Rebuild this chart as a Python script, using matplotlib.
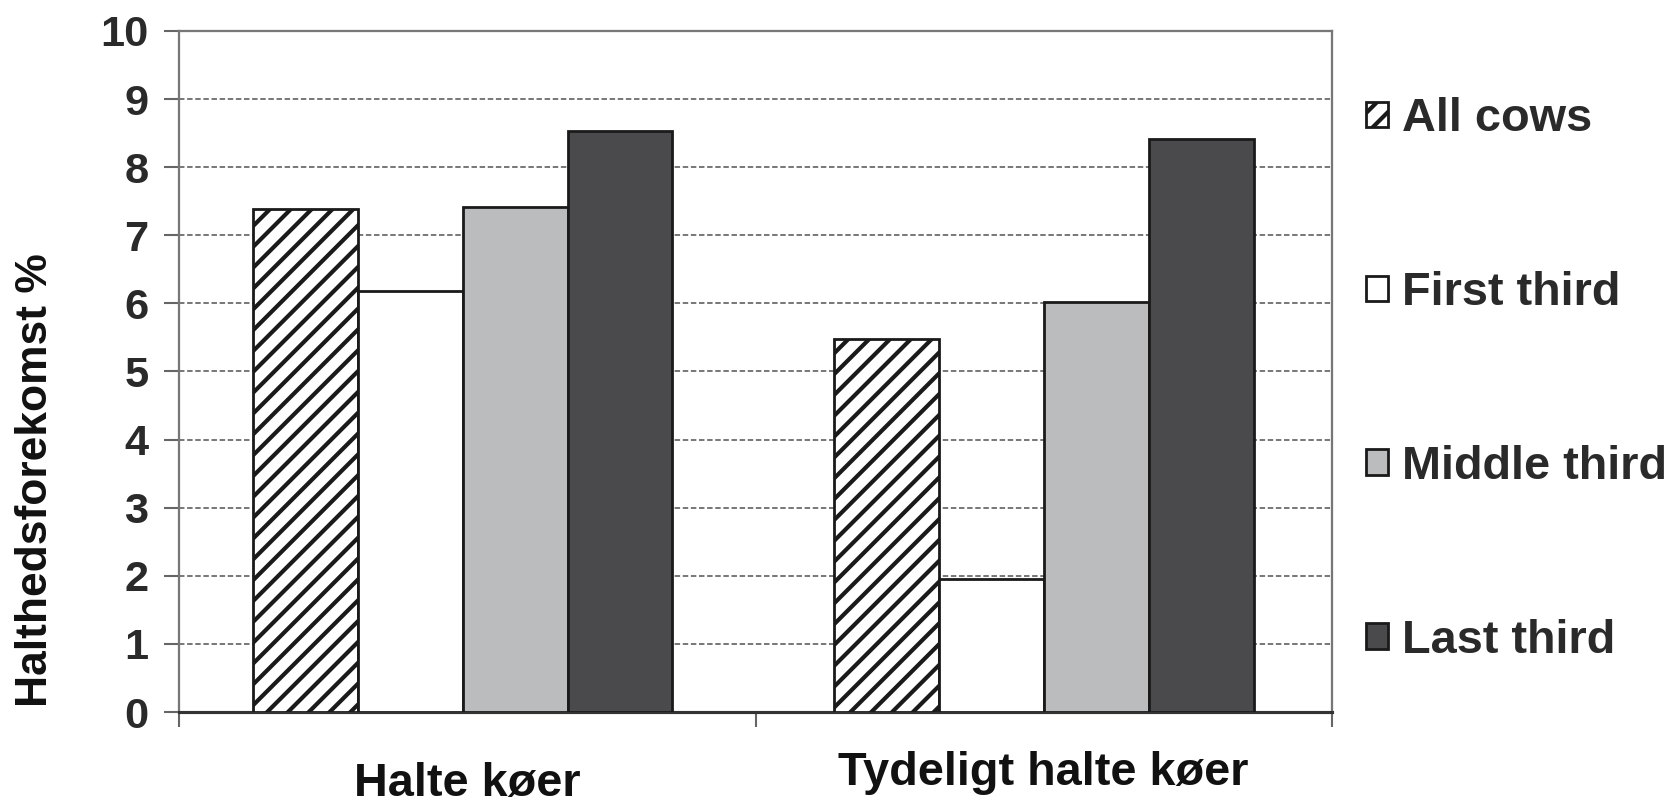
import matplotlib.pyplot as plt
import numpy as np

plt.rcParams['font.family'] = ['Liberation Sans', 'DejaVu Sans']
plt.rcParams['font.weight'] = 'bold'
plt.rcParams['hatch.linewidth'] = 2.4
plt.rcParams['hatch.color'] = '#1a1a1a'

# data
categories = ['Halte køer', 'Tydeligt halte køer']
series = ['All cows', 'First third', 'Middle third', 'Last third']
values = [
    [7.38, 5.48],   # All cows
    [6.18, 1.95],   # First third
    [7.42, 6.02],   # Middle third
    [8.53, 8.42],   # Last third
]
yticks = list(range(0, 11))

colors = ['white', 'white', '#bbbcbe', '#4a4a4c']
hatches = ['//', None, None, None]

DPI = 125
fig = plt.figure(figsize=(1673 / DPI, 803 / DPI), dpi=DPI)
ax = fig.add_axes([179 / 1673, 1 - 712 / 803, (1332 - 179) / 1673, (712 - 31) / 803])

x = np.arange(len(categories))
group_x = x + np.array([-0.008, 0.0])   # first group sits a touch left in the original
w = 0.182
for i, s in enumerate(series):
    ax.bar(group_x + (i - 1.5) * w, values[i], w, color=colors[i], edgecolor='#1a1a1a',
           linewidth=1.6, hatch=hatches[i], label=s, zorder=3)

ax.set_xlim(-0.5, 1.5)
ax.set_ylim(0, 10)
ax.set_yticks(yticks)
ax.tick_params(axis='y', labelsize=25, colors='#666666', labelcolor='#2a2a2a',
               length=8.6, width=1.2, pad=9)
ax.set_xticks([-0.5, 0.5, 1.5])
ax.set_xticklabels([])
ax.tick_params(axis='x', length=8.6, width=1.2, colors='#666666')

ax.yaxis.grid(True, linestyle=(0, (3.5, 1.7)), color='#555555', linewidth=0.9, zorder=0)
ax.set_axisbelow(True)

for side in ['left', 'top', 'right']:
    ax.spines[side].set_color('#777777')
    ax.spines[side].set_linewidth(1.3)
ax.spines['bottom'].set_color('#333333')
ax.spines['bottom'].set_linewidth(1.8)

# category labels (the two sit at slightly different heights in the original)
label_y = [-0.106, -0.089]
for xi, cat, ly in zip(x, categories, label_y):
    ax.text(xi, ly, cat, transform=ax.get_xaxis_transform(), ha='center', va='center',
            fontsize=27, color='#111111')

fig.text(0.021, 0.402, 'Halthedsforekomst %', rotation=90, ha='center', va='center',
         fontsize=25.6, color='#111111')

leg = fig.legend(loc='center left', bbox_to_anchor=(1366 / 1673, 1 - 380 / 803),
                 frameon=False, fontsize=27, handlelength=0.47, handleheight=0.47,
                 handletextpad=0.3, labelspacing=2.77, borderpad=0, borderaxespad=0)
for t in leg.get_texts():
    t.set_color('#2a2a2a')

fig.savefig('out.png', dpi=DPI)
